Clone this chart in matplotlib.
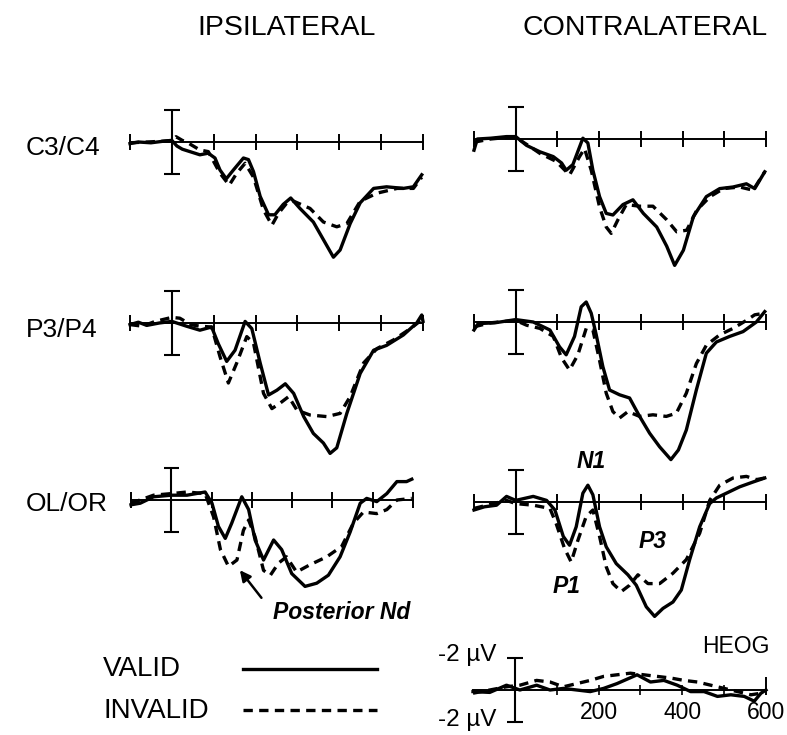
import numpy as np
import matplotlib
matplotlib.use('Agg')
import matplotlib.pyplot as plt
from matplotlib.lines import Line2D

plt.rcParams['font.family'] = ['Liberation Sans', 'DejaVu Sans']

W, H = 787, 735

# ERP waveforms, (ms, microvolt), positive values plotted downward
c34_ipsi_valid = [(-100, 0.1), (-80, 0.0), (-50, 0.05), (-20, -0.05), (0, -0.1), (12, 0.25), (25, 0.45), (43, 0.6),
                  (67, 0.8), (87, 0.7), (103, 1.0), (115, 1.75), (130, 2.3), (147, 1.75), (171, 1.0), (183, 1.1),
                  (195, 1.85), (211, 3.4), (231, 4.55), (246, 4.55), (266, 3.9), (284, 3.5), (306, 4.15), (338, 5.0),
                  (362, 6.1), (386, 7.2), (402, 6.75), (426, 5.1), (450, 3.8), (482, 2.9), (513, 2.8), (553, 2.9),
                  (577, 2.8), (597, 2.05)]
c34_ipsi_invalid = [(-100, 0.05), (-60, 0.0), (-20, -0.05), (0, -0.1), (10, -0.33), (25, -0.1), (35, 0.0), (67, 0.5),
                    (87, 0.6), (115, 1.95), (137, 2.7), (155, 1.95), (175, 1.33), (195, 2.2), (219, 4.25), (239, 5.2),
                    (255, 4.45), (275, 3.8), (291, 3.7), (330, 4.15), (362, 5.0), (394, 5.3), (418, 5.1), (450, 3.7),
                    (490, 3.2), (538, 2.9), (577, 2.9), (597, 2.2)]
c34_contra_valid = [(-100, 0.7), (-92, 0.0), (-60, -0.05), (-22, -0.15), (0, -0.15), (26, 0.4), (58, 0.8), (90, 1.1),
                    (110, 1.5), (121, 1.95), (137, 1.6), (161, -0.05), (173, 0.25), (185, 1.95), (201, 3.6),
                    (217, 4.65), (233, 4.75), (257, 4.1), (281, 3.8), (306, 4.65), (338, 5.5), (362, 6.7), (381, 7.9),
                    (402, 6.95), (426, 4.85), (457, 3.6), (489, 3.1), (521, 3.0), (553, 2.8), (573, 3.1), (597, 2.05)]
c34_contra_invalid = [(-100, 0.2), (-60, 0.0), (-20, -0.1), (0, -0.1), (30, 0.4), (58, 0.9), (97, 1.4), (129, 2.25),
                      (153, 1.1), (165, 0.6), (181, 1.95), (201, 4.25), (217, 5.5), (229, 5.9), (245, 5.05),
                      (265, 4.1), (297, 4.2), (329, 4.2), (362, 5.05), (386, 5.8), (410, 5.7), (434, 4.45), (466, 3.6),
                      (498, 3.1), (537, 3.0), (569, 3.2), (597, 2.05)]

p34_ipsi_valid = [(-100, 0.1), (-80, -0.05), (-60, 0.15), (-30, 0.0), (0, -0.1), (35, 0.2), (67, 0.45), (95, 0.25),
                  (111, 1.3), (131, 2.4), (151, 1.7), (175, -0.1), (191, 0.35), (211, 2.5), (231, 4.5), (251, 4.2),
                  (271, 3.8), (291, 4.4), (315, 5.85), (338, 6.9), (362, 7.5), (378, 8.15), (394, 7.8), (418, 5.65),
                  (450, 3.15), (482, 1.7), (513, 1.4), (553, 0.75), (585, 0.0), (597, -0.5), (600, -0.1)]
p34_ipsi_invalid = [(-100, 0.1), (-70, 0.2), (-40, -0.1), (0, -0.35), (19, -0.3), (45, 0.1), (67, 0.2), (95, 0.25),
                    (115, 2.1), (135, 3.75), (155, 2.5), (179, 0.85), (195, 1.25), (219, 4.4), (239, 5.35),
                    (259, 5.0), (279, 4.6), (299, 5.45), (330, 5.75), (370, 5.85), (402, 5.65), (426, 4.6),
                    (458, 2.5), (490, 1.6), (530, 1.05), (570, 0.35), (597, -0.2)]
p34_contra_valid = [(-100, 0.5), (-90, 0.1), (-50, 0.05), (0, -0.15), (42, 0.0), (82, 0.5), (105, 1.55), (121, 2.05),
                    (141, 0.9), (157, -0.95), (169, -1.25), (181, -0.55), (193, 0.8), (209, 2.8), (225, 4.25),
                    (249, 4.55), (273, 4.75), (297, 5.9), (321, 6.95), (345, 7.8), (372, 8.6), (390, 8.0),
                    (409, 6.75), (433, 4.25), (457, 1.95), (481, 1.25), (513, 0.9), (545, 0.6), (577, 0.0),
                    (597, -0.65)]
p34_contra_invalid = [(-100, 0.3), (-60, 0.05), (-20, -0.05), (0, -0.1), (26, 0.2), (58, 0.4), (90, 0.9), (110, 2.25),
                      (129, 3.0), (149, 2.05), (169, 0.4), (185, 0.5), (201, 2.4), (217, 4.45), (233, 5.6), (249, 6.0),
                      (269, 5.6), (297, 5.9), (329, 5.8), (361, 5.9), (385, 5.7), (409, 4.45), (433, 2.6),
                      (457, 1.45), (489, 0.8), (521, 0.4), (553, -0.1), (573, -0.45), (597, -0.55)]

olor_ipsi_valid = [(-100, 0.3), (-77, 0.2), (-44, -0.2), (0, -0.3), (39, -0.3), (84, -0.5), (101, 0.2), (117, 1.65),
                   (134, 2.4), (150, 1.45), (175, -0.2), (192, 0.6), (208, 2.5), (229, 3.75), (254, 2.5), (274, 3.1),
                   (299, 4.6), (332, 5.4), (361, 5.2), (390, 4.7), (419, 3.55), (444, 2.0), (469, 0.2), (485, -0.1),
                   (510, 0.1), (535, -0.4), (560, -1.15), (584, -1.15), (597, -1.3)]
olor_ipsi_invalid = [(-100, 0.2), (-44, -0.3), (0, -0.4), (39, -0.5), (84, -0.4), (105, 1.05), (122, 3.1), (142, 4.15),
                     (163, 3.75), (179, 1.9), (192, 1.25), (208, 2.3), (229, 4.4), (246, 4.7), (266, 3.95),
                     (286, 3.55), (311, 4.5), (344, 4.05), (386, 3.55), (423, 2.9), (452, 1.45), (477, 0.75),
                     (510, 0.85), (535, 0.6), (560, 0.0), (597, -0.1)]
olor_contra_valid = [(-100, 0.5), (-75, 0.3), (-46, 0.2), (-22, -0.35), (0, -0.1), (42, -0.35), (74, -0.1), (94, 0.5),
                     (114, 2.15), (129, 2.7), (145, 1.55), (161, -0.55), (173, -1.05), (185, -0.45), (201, 1.55),
                     (217, 2.8), (241, 3.85), (269, 4.55), (289, 5.2), (313, 6.55), (333, 7.15), (353, 6.65),
                     (377, 6.25), (397, 5.5), (417, 3.6), (441, 1.55), (465, 0.1), (481, -0.25), (505, -0.55),
                     (537, -0.95), (569, -1.25), (597, -1.5)]
olor_contra_invalid = [(-100, 0.4), (-22, -0.1), (0, 0.1), (42, 0.2), (82, 0.4), (97, 1.35), (117, 2.9), (133, 3.75),
                       (149, 2.4), (169, 0.9), (185, 0.5), (201, 2.15), (217, 4.05), (233, 5.1), (253, 5.6),
                       (273, 5.2), (293, 4.55), (317, 5.1), (345, 5.1), (377, 4.45), (409, 3.6), (441, 1.95),
                       (465, -0.1), (489, -1.05), (521, -1.5), (553, -1.6), (577, -1.4), (597, -1.5)]

heog_valid = [(-100, 0.1), (-60, 0.15), (-20, -0.3), (12, 0.0), (52, -0.3), (84, 0.0), (116, -0.1), (148, 0.0),
              (180, 0.1), (212, -0.1), (244, -0.4), (292, -0.95), (324, -0.5), (356, -0.6), (388, -0.3), (420, 0.1),
              (452, 0.1), (484, 0.4), (516, 0.3), (548, 0.4), (572, 0.7), (588, 0.2), (600, 0.0)]
heog_invalid = [(-100, 0.2), (-60, 0.0), (-20, -0.2), (12, -0.3), (52, -0.6), (84, -0.5), (116, -0.2), (148, -0.4),
                (180, -0.6), (212, -0.85), (244, -0.95), (276, -1.05), (308, -0.95), (340, -0.85), (372, -0.75),
                (404, -0.6), (436, -0.5), (468, -0.3), (500, -0.1), (532, 0.1), (564, 0.3), (588, 0.2)]

tick_ms = [-100, 100, 200, 300, 400, 500, 600]
heog_labels = [200, 400, 600]

fig = plt.figure(figsize=(W / 100, H / 100), dpi=100)

PX_UV = 16.0   # pixels per microvolt
CURVE_LW = 2.4
DASH = (0, (2.8, 1.9))


def make_panel(left, right, base, top_uv=-3.5, bot_uv=9.5):
    # left/right = pixel x of -100 and 600 ms, base = pixel y of the zero line
    y_top = base + top_uv * PX_UV
    y_bot = base + bot_uv * PX_UV
    ax = fig.add_axes([left / W, 1 - y_bot / H, (right - left) / W, (y_bot - y_top) / H])
    ax.set_xlim(-100, 600)
    ax.set_ylim(bot_uv, top_uv)
    ax.axis('off')
    return ax


def draw_axis(ax, tick_half=0.5):
    ax.plot([-100, 600], [0, 0], color='k', lw=1.4, clip_on=False)
    ax.vlines(tick_ms, -tick_half, tick_half, color='k', lw=1.4, clip_on=False)
    # calibration bar at stimulus onset
    ax.vlines(0, -2, 2, color='k', lw=1.5, clip_on=False)
    ax.hlines([-2, 2], -19, 19, color='k', lw=1.5, clip_on=False)


def draw_waves(ax, valid, invalid):
    t, v = np.array(valid).T
    ax.plot(t, v, color='k', lw=CURVE_LW, solid_joinstyle='round', clip_on=False)
    t, v = np.array(invalid).T
    ax.plot(t, v, color='k', lw=CURVE_LW, linestyle=DASH, clip_on=False)


panels = [
    (130, 423, 142, c34_ipsi_valid, c34_ipsi_invalid),
    (474, 766, 139, c34_contra_valid, c34_contra_invalid),
    (130, 423, 323, p34_ipsi_valid, p34_ipsi_invalid),
    (474, 766, 322, p34_contra_valid, p34_contra_invalid),
    (131, 413, 500, olor_ipsi_valid, olor_ipsi_invalid),
    (474, 766, 502, olor_contra_valid, olor_contra_invalid),
]
axes = []
for left, right, base, valid, invalid in panels:
    ax = make_panel(left, right, base)
    draw_axis(ax)
    draw_waves(ax, valid, invalid)
    axes.append(ax)

# HEOG panel
ax_h = make_panel(473, 766, 690, top_uv=-2.5, bot_uv=2.5)
ax_h.plot([-100, 600], [0, 0], color='k', lw=1.4, clip_on=False)
ax_h.vlines([100, 200, 300, 400, 500], -0.3, 0.3, color='k', lw=1.2, clip_on=False)
ax_h.vlines(600, -0.8, 0.3, color='k', lw=1.4, clip_on=False)
ax_h.vlines(0, -2, 2, color='k', lw=1.5, clip_on=False)
ax_h.hlines([-2, 2], -19, 19, color='k', lw=1.5, clip_on=False)
draw_waves(ax_h, heog_valid, heog_invalid)
for ms in heog_labels:
    ax_h.text(ms, 1.4, str(ms), ha='center', va='center', fontsize=16.5)
ax_h.text(-44, -2.2, '-2 \u00b5V', ha='right', va='center', fontsize=17.5)
ax_h.text(-44, 1.9, '-2 \u00b5V', ha='right', va='center', fontsize=17.5)
ax_h.text(608, -2.7, 'HEOG', ha='right', va='center', fontsize=16.5)

# component labels
ax_ol_ipsi = axes[4]
ax_ol_ipsi.annotate('', xy=(166, 4.25), xytext=(228, 6.25),
                    arrowprops=dict(arrowstyle='-|>', lw=1.8, color='k', mutation_scale=16))
ax_ol_ipsi.text(253, 7.06, 'Posterior Nd', ha='left', va='center', fontsize=16.5,
                fontweight='bold', fontstyle='italic')
ax_ol_contra = axes[5]
for name, t, v in [('N1', 182, -2.5), ('P3', 329, 2.5), ('P1', 122, 5.3)]:
    ax_ol_contra.text(t, v, name, ha='center', va='center', fontsize=16.5, fontweight='bold', fontstyle='italic')

# titles and row labels
fig.text(287 / W, 1 - 28 / H, 'IPSILATERAL', ha='center', va='center', fontsize=20.5)
fig.text(645 / W, 1 - 28 / H, 'CONTRALATERAL', ha='center', va='center', fontsize=20.5)
for label, y in [('C3/C4', 148), ('P3/P4', 330), ('OL/OR', 504)]:
    fig.text(26 / W, 1 - y / H, label, ha='left', va='center', fontsize=19)

# legend
fig.text(103 / W, 1 - 669 / H, 'VALID', ha='left', va='center', fontsize=20)
fig.text(103 / W, 1 - 711 / H, 'INVALID', ha='left', va='center', fontsize=20)
fig.add_artist(Line2D([243 / W, 377 / W], [1 - 669 / H, 1 - 669 / H], color='k', lw=CURVE_LW))
fig.add_artist(Line2D([243 / W, 377 / W], [1 - 710 / H, 1 - 710 / H], color='k', lw=CURVE_LW, linestyle=DASH))

fig.savefig('out.png', dpi=100, facecolor='white')
